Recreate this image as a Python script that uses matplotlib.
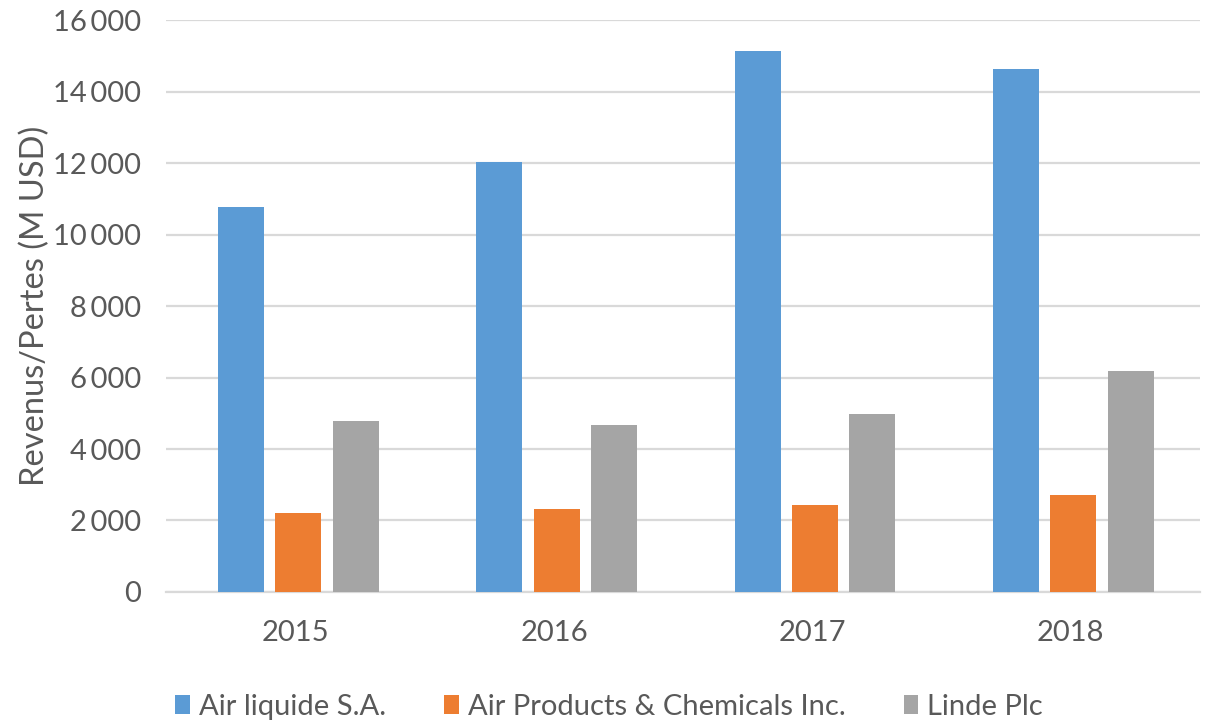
import numpy as np
import matplotlib.pyplot as plt
from matplotlib.ticker import FuncFormatter

# data
years = ["2015", "2016", "2017", "2018"]
air_liquide = [10770, 12020, 15150, 14630]
air_products = [2220, 2310, 2420, 2700]
linde = [4770, 4670, 4990, 6190]
series_names = ["Air liquide S.A.", "Air Products & Chemicals Inc.", "Linde Plc"]
colors = ["#5B9BD5", "#ED7D31", "#A5A5A5"]

plt.rcParams['font.family'] = ['Lato', 'DejaVu Sans']
text_color = "#595959"

fig = plt.figure(figsize=(12.06, 7.21), dpi=100)
ax = fig.add_axes([0.138, 0.179, 0.857, 0.793])

x = np.arange(len(years))
width = 0.178
step = 0.222
for i, (vals, name, col) in enumerate(zip([air_liquide, air_products, linde], series_names, colors)):
    ax.bar(x + (i - 1) * step + 0.01, vals, width, color=col, label=name, zorder=3)

ax.set_xlim(-0.5, 3.5)
ax.set_ylim(0, 16000)
ax.set_yticks(range(0, 16001, 2000))
ax.yaxis.set_major_formatter(FuncFormatter(lambda v, p: f"{int(v):,}".replace(",", "\u2009")))
ax.set_xticks(x)
ax.set_xticklabels(years)

ax.grid(axis='y', color="#D9D9D9", linewidth=1.6, zorder=0)
for s in ["top", "right", "left"]:
    ax.spines[s].set_visible(False)
ax.spines["bottom"].set_color("#D9D9D9")
ax.spines["bottom"].set_linewidth(1.6)
ax.tick_params(axis='both', length=0, labelsize=21, colors=text_color)
ax.tick_params(axis='y', pad=18)
ax.tick_params(axis='x', pad=20)

ax.set_ylabel("Revenus/Pertes (M USD)", fontsize=23.5, color=text_color, labelpad=2)

leg = fig.legend(loc="lower center", bbox_to_anchor=(0.505, -0.035), ncol=3, frameon=False,
                 fontsize=21, handlelength=0.5, handleheight=0.6, handletextpad=0.3,
                 columnspacing=2.0, labelcolor=text_color)

plt.savefig("out.png", dpi=100)
plt.close()
